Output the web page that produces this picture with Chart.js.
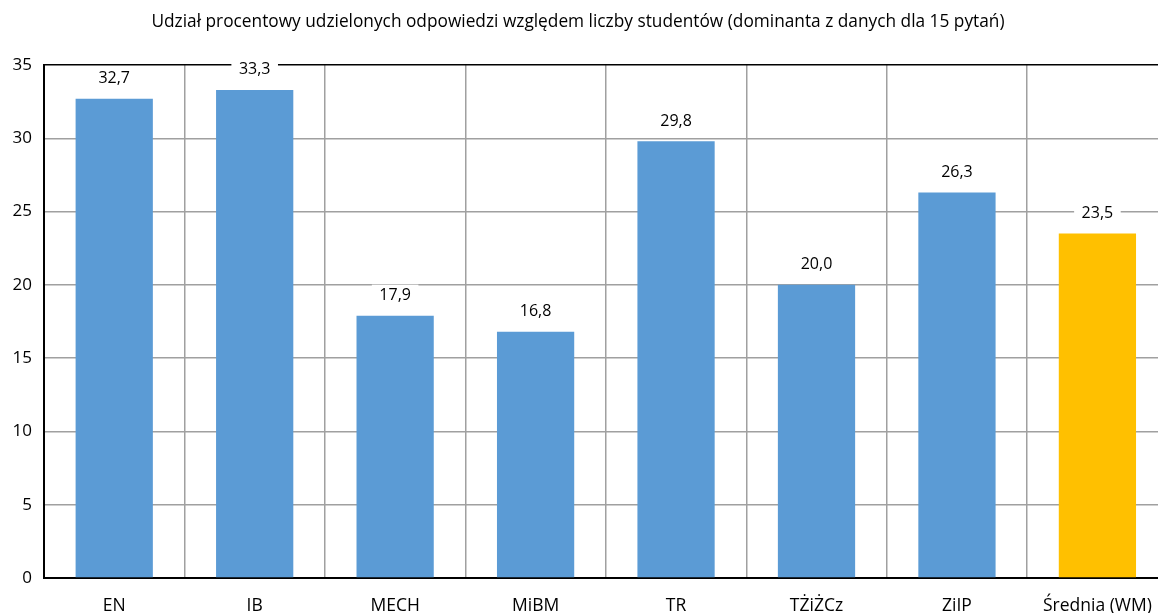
<!DOCTYPE html>
<html>
<head>
<meta charset="utf-8">
<script src="https://cdn.jsdelivr.net/npm/chart.js@4/dist/chart.umd.min.js"></script>
<style>
  html, body { margin: 0; padding: 0; background: #fff; overflow: hidden; }
  #wrap { width: 1158px; height: 613px; overflow: hidden; }
</style>
</head>
<body>
<div id="wrap"><canvas id="myChart" width="1170" height="613"></canvas></div>
<script>
var categories = ['EN', 'IB', 'MECH', 'MiBM', 'TR', 'TŻiŻCz', 'ZiIP', 'Średnia (WM)'];
var values = [32.7, 33.3, 17.9, 16.8, 29.8, 20.0, 26.3, 23.5];
var barColors = ['#5b9bd5', '#5b9bd5', '#5b9bd5', '#5b9bd5', '#5b9bd5', '#5b9bd5', '#5b9bd5', '#ffc000'];
var yTicks = [0, 5, 10, 15, 20, 25, 30, 35];
var chartTitle = 'Udział procentowy udzielonych odpowiedzi względem liczby studentów (dominanta z danych dla 15 pytań)';

var FONT = '"Open Sans", Lato, sans-serif';

// values above the bars, on a white box that hides the grid
var barLabels = {
    id: 'barLabels',
    afterDatasetsDraw: function(chart) {
        var ctx = chart.ctx;
        var meta = chart.getDatasetMeta(0);
        ctx.save();
        ctx.font = '16px ' + FONT;
        ctx.textAlign = 'center';
        ctx.textBaseline = 'middle';
        meta.data.forEach(function(bar, i) {
            var txt = values[i].toFixed(1).replace('.', ',');
            var w = ctx.measureText(txt).width + 15;
            var y = bar.y - 20;
            ctx.fillStyle = '#fff';
            ctx.fillRect(bar.x - w / 2, y - 11, w, 22);
            ctx.fillStyle = '#000';
            ctx.fillText(txt, bar.x, y);
        });
        ctx.restore();
    }
};

// title drawn by hand so it stays centred on the visible picture
var titlePlugin = {
    id: 'titlePlugin',
    afterDraw: function(chart) {
        var ctx = chart.ctx;
        ctx.save();
        ctx.font = '17.3px ' + FONT;
        ctx.fillStyle = '#000';
        ctx.textAlign = 'center';
        ctx.textBaseline = 'middle';
        ctx.fillText(chartTitle, 578, 22);
        ctx.restore();
    }
};

window.onload = function() {
    var ctx = document.getElementById('myChart').getContext('2d');
    new Chart(ctx, {
        type: 'bar',
        data: {
            labels: categories,
            datasets: [{
                data: values,
                backgroundColor: barColors,
                categoryPercentage: 1,
                barPercentage: 0.55
            }]
        },
        options: {
            responsive: false,
            animation: false,
            layout: { padding: { top: 65, left: 0, right: 2, bottom: 0 } },
            plugins: {
                legend: { display: false },
                tooltip: { enabled: false },
                title: { display: false }
            },
            scales: {
                x: {
                    grid: { color: '#a0a0a0', lineWidth: 1.5, drawTicks: false },
                    border: { color: '#000', width: 2 },
                    ticks: { color: '#000', font: { family: FONT, size: 17.5 }, padding: 18, maxRotation: 0 },
                    afterFit: function(scale) { scale.height = 35; }
                },
                y: {
                    min: 0,
                    max: 35,
                    afterBuildTicks: function(scale) {
                        scale.ticks = yTicks.map(function(v) { return { value: v }; });
                    },
                    grid: {
                        drawTicks: false,
                        lineWidth: 1.5,
                        color: function(c) { return c.tick && c.tick.value === 35 ? '#000' : '#a0a0a0'; }
                    },
                    border: { color: '#000', width: 2 },
                    ticks: { color: '#000', font: { family: FONT, size: 17 }, padding: 12 },
                    afterFit: function(scale) { scale.width = 44; }
                }
            }
        },
        plugins: [barLabels, titlePlugin]
    });
};
</script>
</body>
</html>
